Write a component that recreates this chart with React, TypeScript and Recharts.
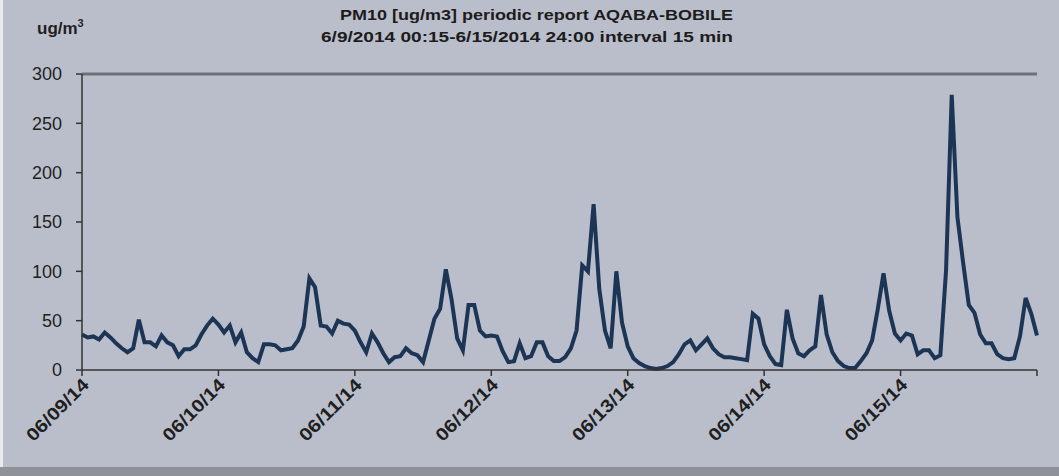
import { LineChart, Line, XAxis, YAxis, ReferenceLine } from 'recharts';

// hourly PM10 readings, one array per day (ug/m3)
const JUN09 = [36, 33, 34, 31, 38, 33, 27, 22, 18, 22, 51, 28, 28, 24, 35, 28, 25, 14, 21, 21, 25, 36, 45, 52];
const JUN10 = [46, 38, 45, 28, 38, 18, 12, 8, 26, 26, 25, 20, 21, 22, 30, 44, 93, 84, 45, 44, 37, 50, 47, 46];
const JUN11 = [40, 28, 18, 37, 28, 17, 8, 13, 14, 22, 17, 15, 8, 30, 52, 62, 102, 72, 32, 20, 66, 66, 40, 34];
const JUN12 = [35, 34, 19, 8, 9, 27, 12, 14, 28, 28, 14, 9, 9, 13, 22, 40, 106, 100, 168, 82, 40, 22, 100, 48];
const JUN13 = [24, 12, 7, 4, 2, 1, 2, 4, 8, 16, 26, 30, 20, 26, 32, 22, 16, 13, 13, 12, 11, 10, 57, 52];
const JUN14 = [26, 14, 6, 5, 61, 32, 17, 14, 20, 24, 76, 36, 18, 9, 4, 2, 2, 9, 17, 30, 62, 98, 60, 37];
const JUN15 = [30, 37, 35, 16, 20, 20, 12, 15, 101, 279, 155, 109, 66, 58, 36, 27, 27, 16, 12, 11, 12, 34, 73, 57, 35];

const DATE_LABELS = ['06/09/14', '06/10/14', '06/11/14', '06/12/14', '06/13/14', '06/14/14', '06/15/14'];
const DAY_TICKS = [0, 24, 48, 72, 96, 120, 144, 168];
const Y_TICKS = [0, 50, 100, 150, 200, 250, 300];

const values = [...JUN09, ...JUN10, ...JUN11, ...JUN12, ...JUN13, ...JUN14, ...JUN15];
const data = values.map((v, h) => ({ h, pm10: v }));

const BG = '#babecb';
const INK = '#1f1f1f';
const FONT = "'Liberation Sans', Arial, sans-serif";

function DateTick({ x, y, payload }: any) {
  const label = DATE_LABELS[payload.value / 24];
  if (!label) return null;
  const ax = x + 8;
  const ay = y + 8;
  return (
    <text
      x={ax}
      y={ay}
      transform={`rotate(-45 ${ax} ${ay})`}
      textAnchor="end"
      fontSize={18}
      fontWeight="bold"
      fill={INK}
      fontFamily={FONT}
      textLength={80}
      lengthAdjust="spacingAndGlyphs"
    >
      {label}
    </text>
  );
}

export default function App() {
  return (
    <div style={{ position: 'absolute', left: 0, top: 0, width: 1059, height: 476, background: BG, overflow: 'hidden' }}>
      <div style={{ position: 'absolute', left: 0, top: 0, width: 3, height: 476, background: '#e8eaf0' }} />
      <div style={{ position: 'absolute', left: 0, top: 467, width: 1059, height: 9, background: '#8f9298' }} />
      <svg width={1059} height={60} style={{ position: 'absolute', left: 0, top: 0 }}>
        <g fontFamily={FONT} fill="#1c1c1c">
          <text x={340} y={20} fontSize={14} fontWeight={600} textLength={393} lengthAdjust="spacingAndGlyphs">
            PM10 [ug/m3] periodic report AQABA-BOBILE
          </text>
          <text x={321} y={42} fontSize={14} fontWeight={600} textLength={412} lengthAdjust="spacingAndGlyphs">
            6/9/2014 00:15-6/15/2014 24:00 interval 15 min
          </text>
          <text x={37} y={34} fontSize={17} fontWeight="bold" fill={INK}>
            ug/m<tspan fontSize={11} dy={-7}>3</tspan>
          </text>
        </g>
      </svg>
      <div style={{ position: 'absolute', left: 0, top: 0 }}>
        <LineChart width={1059} height={476} data={data} margin={{ top: 74, right: 22, left: 0, bottom: 0 }}>
          <ReferenceLine y={300} stroke="#6e7077" strokeWidth={3} />
          <XAxis
            dataKey="h"
            type="number"
            domain={[0, 168]}
            ticks={DAY_TICKS}
            interval={0}
            height={106}
            tick={<DateTick />}
            tickSize={6}
            axisLine={{ stroke: '#333', strokeWidth: 1.5 }}
            tickLine={{ stroke: '#333', strokeWidth: 1.5 }}
          />
          <YAxis
            domain={[0, 300]}
            ticks={Y_TICKS}
            interval={0}
            width={82}
            tickSize={6}
            tickMargin={14}
            axisLine={{ stroke: '#333', strokeWidth: 1.5 }}
            tickLine={{ stroke: '#333', strokeWidth: 1.5 }}
            tick={{ fontSize: 18, fill: INK, fontFamily: FONT }}
          />
          <Line
            dataKey="pm10"
            type="linear"
            stroke="#1d3555"
            strokeWidth={4}
            dot={false}
            isAnimationActive={false}
          />
        </LineChart>
      </div>
    </div>
  );
}
